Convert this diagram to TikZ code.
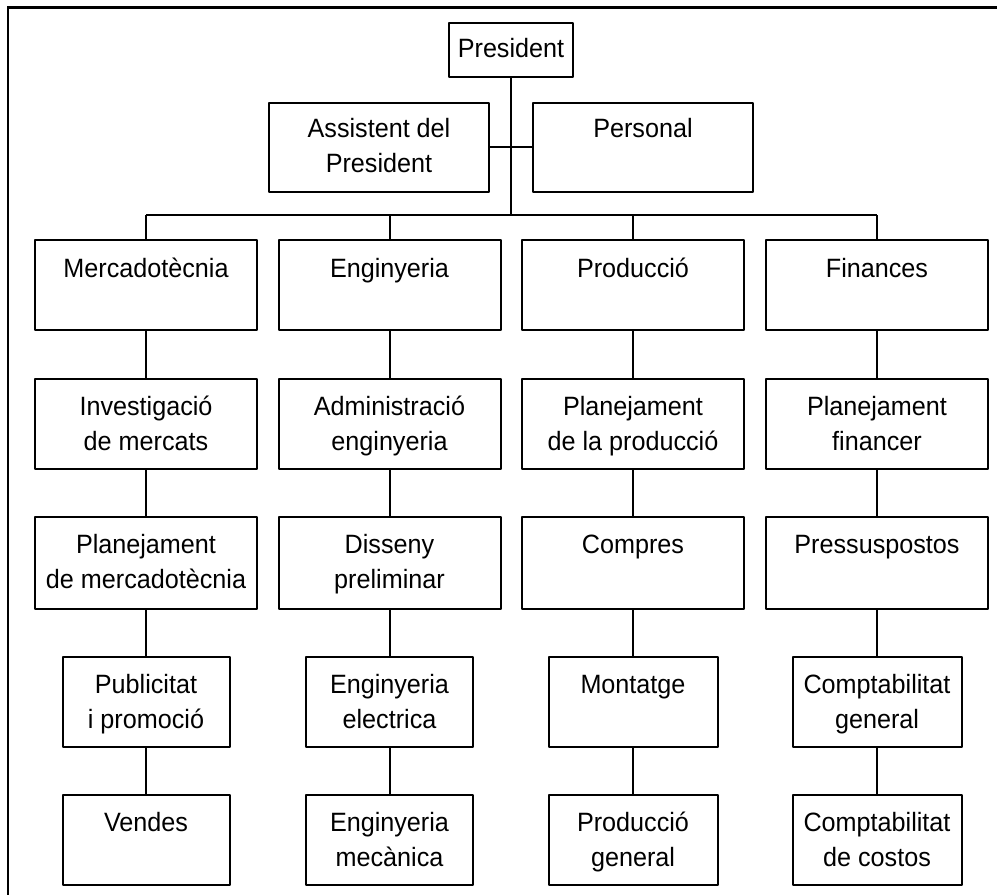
\documentclass[tikz,border=0pt]{standalone}
\usepackage{fontspec}
\setmainfont{Liberation Sans}[FakeStretch=0.95]
% box text: top-aligned, centred lines; #1 = first baseline offset
\newcommand{\boxtext}[4][37pt]{\parbox[c][#3][t]{#2}{\centering\fontsize{26.5}{34.5}\selectfont\rule{0pt}{#1}#4\par}}
\tikzset{
  orgbox/.style={draw, line width=2pt, line join=round, inner sep=0pt, anchor=north},
  link/.style={line width=2pt},
  frameline/.style={line width=2.6pt}
}
\begin{document}
\begin{tikzpicture}[x=1pt, y=-1pt]
\useasboundingbox (0,0) rectangle (997,895);
% outer frame (top and left edges)
\draw[frameline] (8,895) -- (8,7.3) -- (997,7.3);

% top of the chart
\node[orgbox] (pres) at (511,21.5) {\boxtext[34.5pt]{124pt}{54pt}{President}};
\node[orgbox] (asst) at (379,101.5) {\boxtext[35pt]{220pt}{89.5pt}{Assistent del\\President}};
\node[orgbox] (pers) at (643,101.5) {\boxtext[35pt]{220pt}{89.5pt}{Personal}};

% departments and their sections
\node[orgbox] (m1) at (146,239) {\boxtext{222pt}{90pt}{Mercadotècnia}};
\node[orgbox] (m2) at (146,377.5) {\boxtext{222pt}{90.5pt}{Investigació\\de mercats}};
\node[orgbox] (m3) at (146,515.5) {\boxtext{222pt}{92pt}{Planejament\\de mercadotècnia}};
\node[orgbox] (m4) at (146,655.5) {\boxtext{167pt}{90pt}{Publicitat\\i promoció}};
\node[orgbox] (m5) at (146,793.5) {\boxtext{167pt}{90.5pt}{Vendes}};

\node[orgbox] (e1) at (389.5,239) {\boxtext{222pt}{90pt}{Enginyeria}};
\node[orgbox] (e2) at (389.5,377.5) {\boxtext{222pt}{90.5pt}{Administració\\enginyeria}};
\node[orgbox] (e3) at (389.5,515.5) {\boxtext{222pt}{92pt}{Disseny\\preliminar}};
\node[orgbox] (e4) at (389.5,655.5) {\boxtext{167pt}{90pt}{Enginyeria\\electrica}};
\node[orgbox] (e5) at (389.5,793.5) {\boxtext{167pt}{90.5pt}{Enginyeria\\mecànica}};

\node[orgbox] (p1) at (633,239) {\boxtext{222pt}{90pt}{Producció}};
\node[orgbox] (p2) at (633,377.5) {\boxtext{222pt}{90.5pt}{Planejament\\de la producció}};
\node[orgbox] (p3) at (633,515.5) {\boxtext{222pt}{92pt}{Compres}};
\node[orgbox] (p4) at (633,655.5) {\boxtext{169pt}{90pt}{Montatge}};
\node[orgbox] (p5) at (633,793.5) {\boxtext{169pt}{90.5pt}{Producció\\general}};

\node[orgbox] (f1) at (877,239) {\boxtext{222pt}{90pt}{Finances}};
\node[orgbox] (f2) at (877,377.5) {\boxtext{222pt}{90.5pt}{Planejament\\financer}};
\node[orgbox] (f3) at (877,515.5) {\boxtext{222pt}{92pt}{Pressuspostos}};
\node[orgbox] (f4) at (877,655.5) {\boxtext{169pt}{90pt}{Comptabilitat\\general}};
\node[orgbox] (f5) at (877,793.5) {\boxtext{169pt}{90.5pt}{Comptabilitat\\de costos}};

% connectors
\coordinate (busL) at (146,215);
\coordinate (busR) at (877,215);
\draw[link] (pres.south) -- (pres.south |- busL);
\draw[link] (asst.east) -- (pers.west);
\draw[link] (busL) -- (busR);
\foreach \c in {m,e,p,f}{
  \draw[link] (\c1.north) -- (\c1.north |- busL);
  \draw[link] (\c1.south) -- (\c2.north);
  \draw[link] (\c2.south) -- (\c3.north);
  \draw[link] (\c3.south) -- (\c4.north);
  \draw[link] (\c4.south) -- (\c5.north);
}
\end{tikzpicture}
\end{document}
